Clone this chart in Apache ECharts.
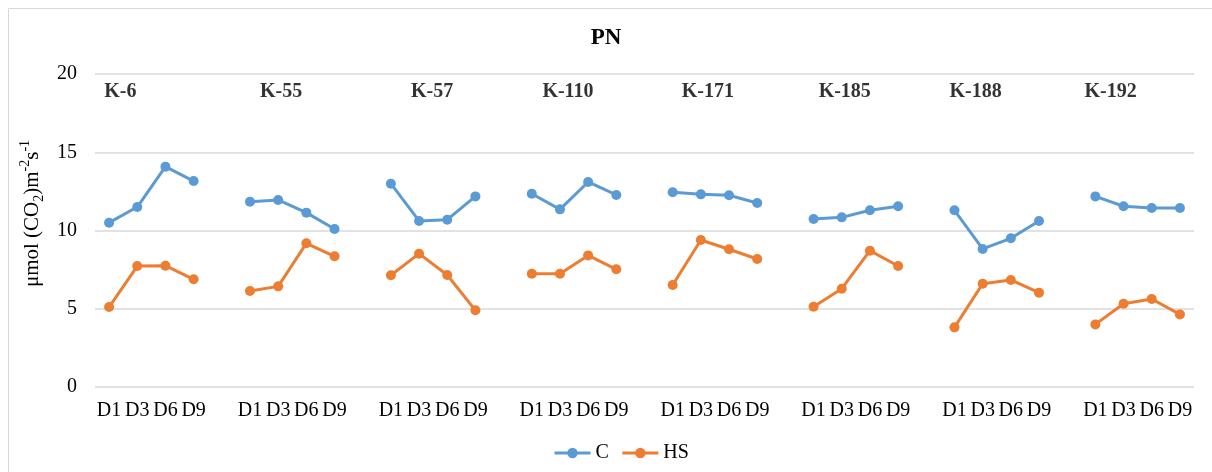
<!DOCTYPE html>
<html>
<head>
<meta charset="utf-8">
<script src="https://cdn.jsdelivr.net/npm/echarts@6/dist/echarts.min.js"></script>
<style>html,body{margin:0;padding:0;background:#fff;}#chart{width:1212px;height:472px;}</style>
</head>
<body>
<div id="chart"></div>
<script>
// ---- data ----
var groups = ['K-6','K-55','K-57','K-110','K-171','K-185','K-188','K-192'];
var days = ['D1','D3','D6','D9'];
var seriesC = [
  [10.50, 11.50, 14.08, 13.16],
  [11.84, 11.95, 11.14, 10.10],
  [12.99, 10.61, 10.69, 12.18],
  [12.35, 11.35, 13.10, 12.27],
  [12.44, 12.31, 12.25, 11.76],
  [10.73, 10.84, 11.29, 11.55],
  [11.29,  8.82,  9.50, 10.61],
  [12.18, 11.55, 11.44, 11.44]
];
var seriesHS = [
  [5.11, 7.73, 7.75, 6.88],
  [6.13, 6.43, 9.18, 8.35],
  [7.14, 8.52, 7.16, 4.90],
  [7.24, 7.24, 8.41, 7.52],
  [6.52, 9.39, 8.80, 8.18],
  [5.13, 6.28, 8.71, 7.73],
  [3.81, 6.60, 6.84, 6.03],
  [4.00, 5.32, 5.62, 4.64]
];
var yTicks = [0, 5, 10, 15, 20];
// ---- style: horizontal nudge (px) of each group heading relative to its D3 slot ----
var headNudge = [-17, 3, 13, 8, 7, 3, -7, -13];

// build category list with a blank slot between groups
var categories = [];
var dataC = [], dataHS = [], heads = [];
groups.forEach(function (g, gi) {
  days.forEach(function (d, di) {
    categories.push(d);
    dataC.push(seriesC[gi][di]);
    dataHS.push(seriesHS[gi][di]);
    if (di === 1) heads.push({ value: [categories.length - 1, yTicks[yTicks.length - 1]], name: g, nudge: headNudge[gi] });
  });
  if (gi < groups.length - 1) {
    categories.push('');
    dataC.push('-');
    dataHS.push('-');
  }
});

var FONT = '"Liberation Serif", "Times New Roman", serif';
var chart = echarts.init(document.getElementById('chart'));
chart.setOption({
  backgroundColor: '#fff',
  animation: false,
  graphic: [{
    type: 'rect', silent: true, z: -1,
    shape: { x: 8.5, y: 8.5, width: 1400, height: 700 },
    style: { fill: 'none', stroke: '#d9d9d9', lineWidth: 1 }
  }],
  title: {
    text: 'PN', left: 'center', top: 22,
    textStyle: { fontFamily: FONT, fontSize: 23, fontWeight: 'bold', color: '#000' }
  },
  legend: {
    data: [
      { name: 'C', lineStyle: { width: 3 } },
      { name: 'HS', lineStyle: { width: 3 } }
    ],
    left: 548, top: 438,
    itemWidth: 36, itemHeight: 13, itemGap: 12,
    lineStyle: { width: 3 },
    textStyle: { fontFamily: FONT, fontSize: 20, color: '#000' }
  },
  grid: { left: 95, right: 18, top: 74, bottom: 85, containLabel: false },
  xAxis: {
    type: 'category', data: categories, boundaryGap: true,
    axisLine: { show: false }, axisTick: { show: false },
    axisLabel: { interval: 0, margin: 14, fontFamily: FONT, fontSize: 20, color: '#000' }
  },
  yAxis: {
    type: 'value', min: yTicks[0], max: yTicks[yTicks.length - 1], interval: 5,
    axisLine: { show: false }, axisTick: { show: false },
    splitLine: { lineStyle: { color: '#d9d9d9', width: 1.5 } },
    axisLabel: { margin: 18, fontFamily: FONT, fontSize: 20, color: '#000' },
    name: '{a|μmol (CO}{sub|2}{a|)m}{sup|-2}{a|s}{sup|-1}',
    nameLocation: 'middle', nameRotate: 90, nameGap: 44,
    nameTextStyle: {
      fontFamily: FONT, color: '#000', padding: [0, 0, 0, 34],
      rich: {
        a: { fontFamily: FONT, fontSize: 21, color: '#000', lineHeight: 28, verticalAlign: 'middle' },
        sub: { fontFamily: FONT, fontSize: 14, color: '#000', lineHeight: 28, verticalAlign: 'bottom' },
        sup: { fontFamily: FONT, fontSize: 14, color: '#000', lineHeight: 28, verticalAlign: 'top' }
      }
    }
  },
  series: [
    {
      name: 'C', type: 'line', data: dataC, connectNulls: false,
      symbol: 'circle', symbolSize: 10,
      itemStyle: { color: '#5b9bd5' },
      lineStyle: { color: '#5b9bd5', width: 3 }
    },
    {
      name: 'HS', type: 'line', data: dataHS, connectNulls: false,
      symbol: 'circle', symbolSize: 10,
      itemStyle: { color: '#ed7d31' },
      lineStyle: { color: '#ed7d31', width: 3 }
    },
    {
      name: 'heads', type: 'scatter', symbolSize: 0, silent: true,
      data: heads.map(function (h) {
        return {
          value: h.value, name: h.name,
          label: { offset: [h.nudge, 18] }
        };
      }),
      label: {
        show: true, position: 'inside', formatter: '{b}',
        fontFamily: FONT, fontSize: 20, fontWeight: 'bold', color: '#000'
      }
    }
  ]
});
</script>
</body>
</html>
